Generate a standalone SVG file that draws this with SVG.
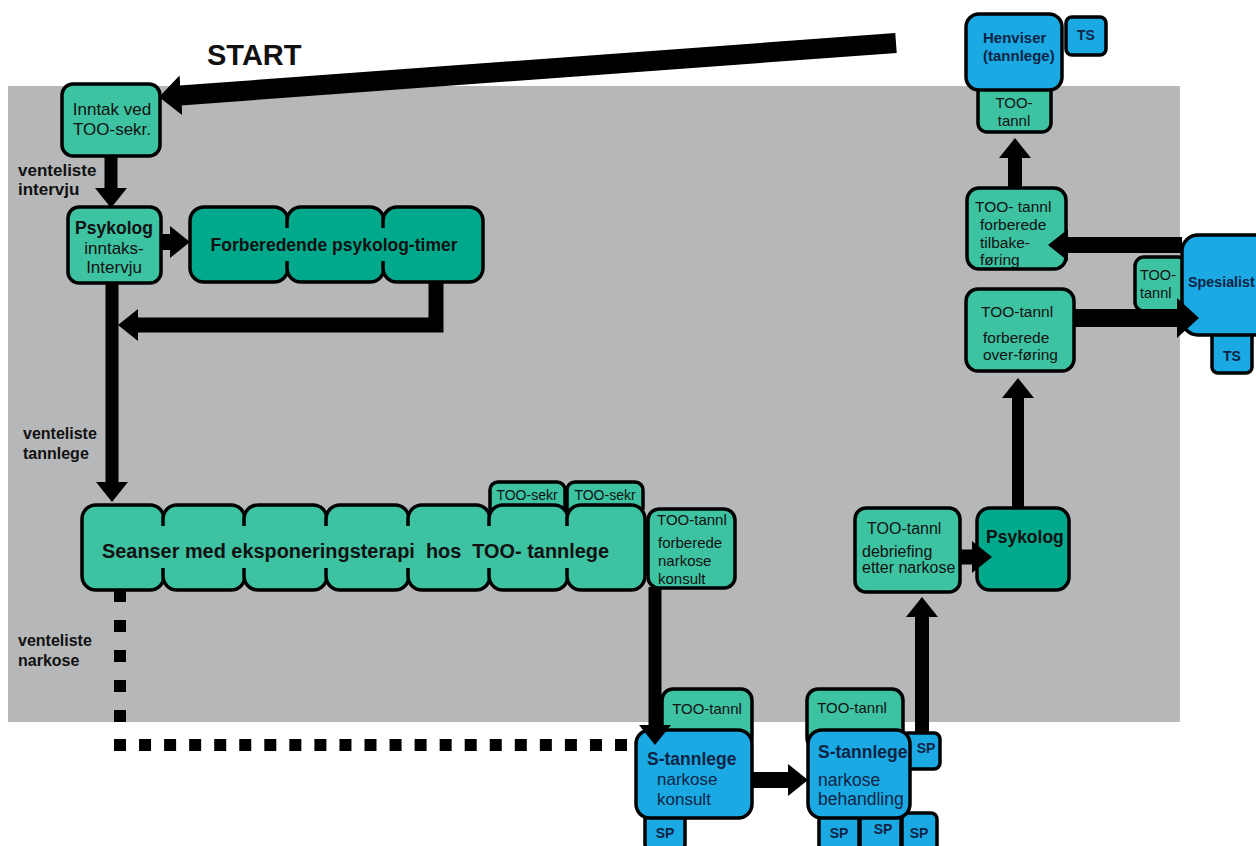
<svg xmlns="http://www.w3.org/2000/svg" width="1256" height="846" viewBox="0 0 1256 846">
<style>
  text { font-family: "Liberation Sans", Arial, sans-serif; fill: #111; }
  .lt { fill: #3dc2a2; stroke: #000; stroke-width: 3.5; }
  .dk { fill: #00a98c; stroke: #000; stroke-width: 3.5; }
  .bl { fill: #1aa9e3; stroke: #000; stroke-width: 3.5; }
  .ltf { fill: #3dc2a2; }
  .dkf { fill: #00a98c; }
  .b { font-weight: bold; }
  .nv { fill: #0f2444; }
  .c { text-anchor: middle; }
  .pre { white-space: pre; }
  .con { fill: none; stroke: #000; stroke-linejoin: miter; }
  .dot { fill: none; stroke: #000; stroke-width: 12; }
</style>
<defs>
  <marker id="h" markerUnits="userSpaceOnUse" viewBox="0 0 20 32" markerWidth="20" markerHeight="32" refX="1" refY="16" orient="auto">
    <path d="M0,0 L20,16 L0,32 z" fill="#000"/>
  </marker>
  <marker id="hL" markerUnits="userSpaceOnUse" viewBox="0 0 22 40" markerWidth="22" markerHeight="40" refX="1" refY="20" orient="auto">
    <path d="M0,0 L22,20 L0,40 z" fill="#000"/>
  </marker>
</defs>
<rect width="1256" height="846" fill="#fff"/>
<rect x="8" y="86" width="1172" height="636" fill="#b5b7b9"/>
<text x="207" y="65" class="b" font-size="29">START</text>

<g id="labels" font-size="16" class="b">
  <text x="18" y="176" class="b" font-size="17">venteliste</text>
  <text x="18" y="195" class="b" font-size="17">intervju</text>
  <text x="23" y="439" class="b">venteliste</text>
  <text x="23" y="459" class="b">tannlege</text>
  <text x="18" y="646" class="b">venteliste</text>
  <text x="18" y="666" class="b">narkose</text>
</g>

<g id="inntak">
  <rect x="62" y="84" width="98" height="72" rx="11" class="lt"/>
  <text x="112" y="115" class="c" font-size="17">Inntak ved</text>
  <text x="112" y="135" class="c" font-size="17">TOO-sekr.</text>
</g>

<g id="psykolog-inntak">
  <rect x="68" y="207" width="93" height="76" rx="11" class="lt"/>
  <text x="114" y="234" class="c b" font-size="17.5">Psykolog</text>
  <text x="114" y="254" class="c" font-size="17">inntaks-</text>
  <text x="114" y="273" class="c" font-size="17">Intervju</text>
</g>

<g id="forberedende">
  <rect x="190" y="207" width="98" height="75" rx="14" class="dk"/>
  <rect x="287" y="207" width="97" height="75" rx="14" class="dk"/>
  <rect x="383" y="207" width="100" height="75" rx="14" class="dk"/>
  <rect x="193" y="228" width="287" height="33" class="dkf"/>
  <text x="334" y="251" class="c b" font-size="17.5">Forberedende psykolog-timer</text>
</g>

<g id="seanser">
  <rect x="490" y="482" width="75" height="34" rx="8" class="lt"/>
  <rect x="567" y="482" width="76" height="34" rx="8" class="lt"/>
  <text x="527" y="500" class="c" font-size="14">TOO-sekr</text>
  <text x="605" y="500" class="c" font-size="14">TOO-sekr</text>
  <rect x="82" y="505" width="82" height="85" rx="14" class="lt"/>
  <rect x="163" y="505" width="82" height="85" rx="14" class="lt"/>
  <rect x="244" y="505" width="83" height="85" rx="14" class="lt"/>
  <rect x="326" y="505" width="83" height="85" rx="14" class="lt"/>
  <rect x="408" y="505" width="82" height="85" rx="14" class="lt"/>
  <rect x="489" y="505" width="79" height="85" rx="14" class="lt"/>
  <rect x="567" y="505" width="78" height="85" rx="14" class="lt"/>
  <rect x="85" y="526" width="557" height="42" class="ltf"/>
  <text x="102" y="558" class="b pre" font-size="19.5" textLength="507" lengthAdjust="spacingAndGlyphs">Seanser med eksponeringsterapi  hos  TOO- tannlege</text>
</g>

<g id="narkose-forb">
  <rect x="648" y="509" width="87" height="79" rx="11" class="lt"/>
  <text x="657" y="525" font-size="15">TOO-tannl</text>
  <text x="658" y="548" font-size="15">forberede</text>
  <text x="658" y="566" font-size="15">narkose</text>
  <text x="658" y="584" font-size="15">konsult</text>
</g>

<g id="s-konsult">
  <rect x="662" y="689" width="90" height="60" rx="11" class="lt"/>
  <text x="707" y="714" class="c" font-size="15">TOO-tannl</text>
  <rect x="645" y="810" width="40" height="40" rx="6" class="bl"/>
  <text x="665" y="838" class="c b nv" font-size="14">SP</text>
  <rect x="636" y="730" width="116" height="88" rx="14" class="bl"/>
  <text x="647" y="765" class="b nv" font-size="17.5">S-tannlege</text>
  <text x="657" y="785" class="nv" font-size="17">narkose</text>
  <text x="657" y="805" class="nv" font-size="17">konsult</text>
</g>

<g id="s-behandling">
  <rect x="807" y="689" width="96" height="60" rx="11" class="lt"/>
  <text x="852" y="713" class="c" font-size="15">TOO-tannl</text>
  <rect x="902" y="733" width="38" height="36" rx="6" class="bl"/>
  <text x="926" y="753" class="c b nv" font-size="14">SP</text>
  <rect x="819" y="813" width="40" height="40" rx="6" class="bl"/>
  <rect x="860" y="811" width="41" height="40" rx="6" class="bl"/>
  <rect x="902" y="813" width="35" height="40" rx="6" class="bl"/>
  <text x="839" y="838" class="c b nv" font-size="14">SP</text>
  <text x="883" y="834" class="c b nv" font-size="14">SP</text>
  <text x="919" y="838" class="c b nv" font-size="14">SP</text>
  <rect x="808" y="730" width="102" height="88" rx="14" class="bl"/>
  <text x="818" y="758" class="b nv" font-size="17.5">S-tannlege</text>
  <text x="818" y="786" class="nv" font-size="17.5">narkose</text>
  <text x="818" y="805" class="nv" font-size="17.5">behandling</text>
</g>

<g id="debriefing">
  <rect x="855" y="508" width="105" height="84" rx="11" class="lt"/>
  <text x="867" y="534" font-size="16">TOO-tannl</text>
  <text x="862" y="557" font-size="16">debriefing</text>
  <text x="862" y="573" font-size="16">etter narkose</text>
</g>

<g id="psykolog">
  <rect x="977" y="508" width="92" height="82" rx="13" class="dk"/>
  <text x="986" y="543" class="b" font-size="17.5">Psykolog</text>
</g>

<g id="overforing">
  <rect x="966" y="289" width="108" height="82" rx="12" class="lt"/>
  <text x="981" y="317" font-size="15.5">TOO-tannl</text>
  <text x="983" y="343" font-size="15.5">forberede</text>
  <text x="983" y="360" font-size="15.5">over-føring</text>
</g>

<g id="spesialist">
  <rect x="1135" y="257" width="52" height="54" rx="9" class="lt"/>
  <text x="1140" y="280" font-size="14.5">TOO-</text>
  <text x="1140" y="298" font-size="14.5">tannl</text>
  <rect x="1212" y="329" width="40" height="44" rx="6" class="bl"/>
  <text x="1232" y="361" class="c b nv" font-size="14">TS</text>
  <rect x="1182" y="235" width="90" height="100" rx="16" class="bl"/>
  <text x="1188" y="287" class="b nv" font-size="14.3">Spesialist</text>
</g>

<g id="tilbakeforing">
  <rect x="967" y="188" width="99" height="81" rx="12" class="lt"/>
  <text x="975" y="212" font-size="15.5">TOO- tannl</text>
  <text x="980" y="230" font-size="15.5">forberede</text>
  <text x="980" y="248" font-size="15.5">tilbake-</text>
  <text x="980" y="265" font-size="15.5">føring</text>
</g>

<g id="henviser">
  <rect x="978" y="80" width="73" height="52" rx="9" class="lt"/>
  <text x="1014" y="108" class="c" font-size="15">TOO-</text>
  <text x="1014" y="126" class="c" font-size="15">tannl</text>
  <rect x="1066" y="17" width="40" height="38" rx="6" class="bl"/>
  <text x="1086" y="40" class="c b nv" font-size="14">TS</text>
  <rect x="966" y="14" width="96" height="76" rx="13" class="bl"/>
  <text x="983" y="43" class="b nv" font-size="15">Henviser</text>
  <text x="983" y="61" class="b nv" font-size="15">(tannlege)</text>
</g>

<g id="connectors">
  <path class="con" stroke-width="20" d="M896,43 L180,95.5" marker-end="url(#hL)"/>
  <path class="con" stroke-width="13" d="M111,156 L111,189" marker-end="url(#h)"/>
  <path class="con" stroke-width="16" d="M161,242 L171,242" marker-end="url(#h)"/>
  <path class="con" stroke-width="15" d="M436,282 L436,325 L137,325" marker-end="url(#h)"/>
  <path class="con" stroke-width="13" d="M112,283 L112,483" marker-end="url(#h)"/>
  <path class="con" stroke-width="13" d="M655,587 L655,726" marker-end="url(#h)"/>
  <path class="con" stroke-width="16" d="M752,780 L789,780" marker-end="url(#h)"/>
  <path class="con" stroke-width="14" d="M922,733 L922,616" marker-end="url(#h)"/>
  <path class="con" stroke-width="15" d="M960,557 L973,557" marker-end="url(#h)"/>
  <path class="con" stroke-width="12" d="M1018,508 L1018,397" marker-end="url(#h)"/>
  <path class="con" stroke-width="18" d="M1074,318 L1178,318" marker-end="url(#hL)"/>
  <path class="con" stroke-width="16" d="M1182,245 L1067,245" marker-end="url(#h)"/>
  <path class="con" stroke-width="14" d="M1015,188 L1015,157" marker-end="url(#h)"/>
  <path class="dot" stroke-dasharray="12 18" d="M120,590 L120,722"/>
  <path class="dot" stroke-dasharray="12 13.05" d="M114,745 L627,745"/>
</g>
</svg>
